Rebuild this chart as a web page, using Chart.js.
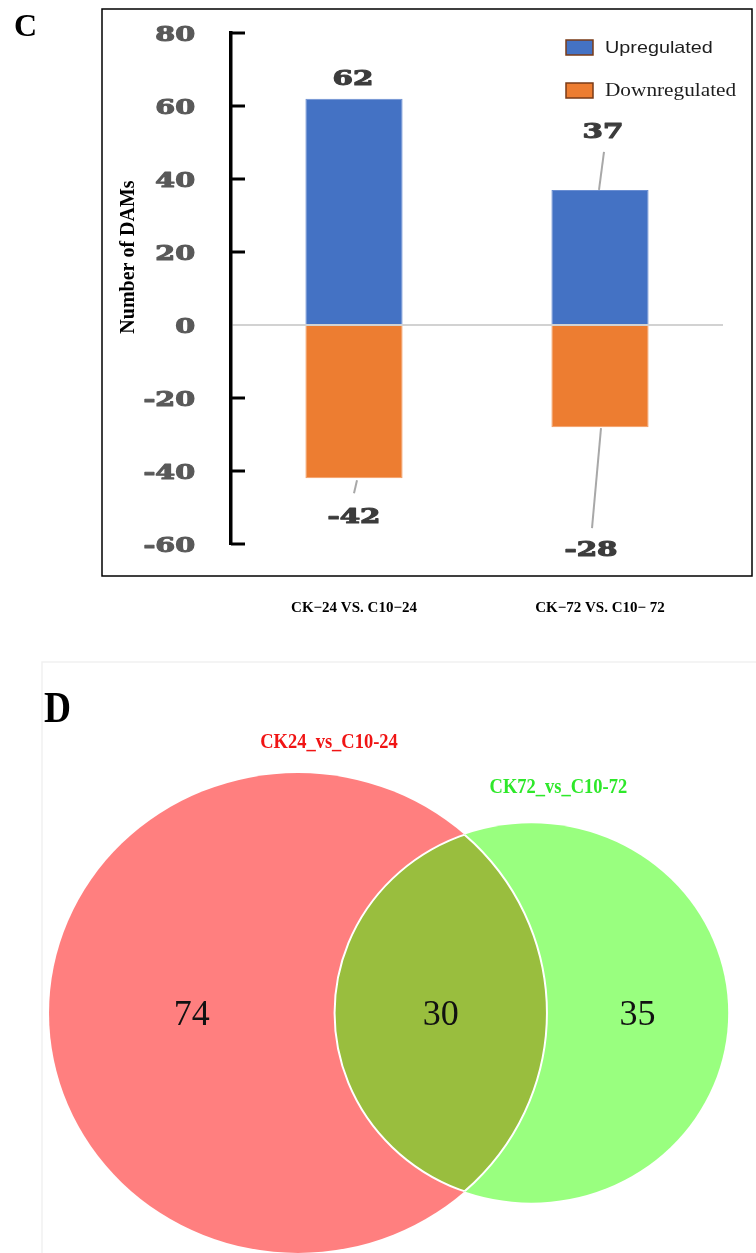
<!DOCTYPE html>
<html>
<head>
<meta charset="utf-8">
<title>DAMs</title>
<script src="https://cdn.jsdelivr.net/npm/chart.js@4.4.1/dist/chart.umd.min.js"></script>
<style>
  html, body { margin: 0; padding: 0; background: #ffffff; }
  #panelC { position: absolute; left: 0; top: 0; }
  #panelD { position: absolute; left: 0; top: 640px; }
</style>
</head>
<body>
<canvas id="panelC" width="756" height="640"></canvas>
<canvas id="panelD" width="756" height="613"></canvas>
<script>
// ---------- Panel C: up / down regulated DAMs per comparison ----------
const comparisons = ['CK\u221224 VS. C10\u221224', 'CK\u221272 VS. C10\u2212 72'];
const upregulated = [62, 37];
const downregulated = [-42, -28];
const yTickValues = [-60, -40, -20, 0, 20, 40, 60, 80];
const yAxisTitle = 'Number of DAMs';

// ---------- Panel D: Venn diagram of the two comparisons ----------
const vennSets = ['CK24_vs_C10-24', 'CK72_vs_C10-72'];
const vennRegions = [74, 30, 35]; // only first set, shared, only second set

const SERIF = '"Liberation Serif", "Times New Roman", serif';
const SLAB = '"DejaVu Serif", serif';
const SANS = '"Liberation Sans", Arial, sans-serif';

// draw text squeezed or widened horizontally, optionally with a heavier outline
function stretchedText(ctx, text, x, y, sx, align, heavy) {
  ctx.save();
  ctx.translate(x, y);
  ctx.scale(sx, 1);
  ctx.textAlign = align || 'center';
  ctx.fillText(text, 0, 0);
  if (heavy) {
    ctx.strokeStyle = ctx.fillStyle;
    ctx.lineWidth = heavy;
    ctx.lineJoin = 'round';
    ctx.strokeText(text, 0, 0);
  }
  ctx.restore();
}

// outer frame, panel letter and axis title
const panelDecor = {
  id: 'panelDecor',
  beforeDraw(chart, args, opts) {
    const ctx = chart.ctx;
    ctx.save();
    ctx.fillStyle = '#ffffff';
    ctx.fillRect(0, 0, chart.width, chart.height);
    ctx.strokeStyle = '#000000';
    ctx.lineWidth = 1.5;
    const f = opts.frame;
    ctx.strokeRect(f.x, f.y, f.w, f.h);
    ctx.fillStyle = '#000000';
    ctx.font = 'bold 32px ' + SERIF;
    ctx.textBaseline = 'alphabetic';
    ctx.textAlign = 'left';
    ctx.fillText(opts.letter, opts.letterX, opts.letterY);
    ctx.restore();
  },
  afterDraw(chart, args, opts) {
    const ctx = chart.ctx;
    ctx.save();
    ctx.translate(opts.titleX, opts.titleY);
    ctx.rotate(-Math.PI / 2);
    ctx.font = 'bold 20px ' + SERIF;
    ctx.fillStyle = '#000000';
    ctx.textAlign = 'center';
    ctx.textBaseline = 'middle';
    ctx.fillText(yAxisTitle, 0, 0);
    ctx.restore();
  }
};

// inward tick marks and wide slab tick labels on the value axis
const valueAxisTicks = {
  id: 'valueAxisTicks',
  afterDraw(chart, args, opts) {
    const ctx = chart.ctx;
    const y = chart.scales.y;
    const x0 = chart.chartArea.left;
    ctx.save();
    ctx.strokeStyle = '#000000';
    ctx.lineWidth = 3;
    y.ticks.forEach(t => {
      const py = y.getPixelForValue(t.value);
      if (t.value !== 0) {
        ctx.beginPath();
        ctx.moveTo(x0, py);
        ctx.lineTo(x0 + opts.tickLength, py);
        ctx.stroke();
      }
    });
    ctx.font = 'bold 21px ' + SLAB;
    ctx.fillStyle = '#595959';
    ctx.textBaseline = 'alphabetic';
    y.ticks.forEach(t => {
      const py = y.getPixelForValue(t.value);
      stretchedText(ctx, String(t.value), x0 - opts.labelGap, py + 7.6, opts.stretch, 'right', 1.1);
    });
    ctx.restore();
  }
};

// value labels with leader lines at the end of each bar
const barValueLabels = {
  id: 'barValueLabels',
  afterDatasetsDraw(chart, args, opts) {
    const ctx = chart.ctx;
    ctx.save();
    chart.data.datasets.forEach((ds, di) => {
      const meta = chart.getDatasetMeta(di);
      meta.data.forEach((bar, i) => {
        const o = opts.placement[di][i];
        const bx = bar.x, by = bar.y;
        if (o.line) {
          ctx.strokeStyle = '#a8a8a8';
          ctx.lineWidth = 2;
          ctx.beginPath();
          ctx.moveTo(bx + o.line[0][0], by + o.line[0][1]);
          ctx.lineTo(bx + o.line[1][0], by + o.line[1][1]);
          ctx.stroke();
        }
        ctx.font = 'bold 21px ' + SLAB;
        ctx.fillStyle = '#3c3c3c';
        ctx.textBaseline = 'alphabetic';
        stretchedText(ctx, String(ds.data[i]), bx + o.dx, by + o.dy + 7.6, opts.stretch, 'center', 1.1);
      });
    });
    ctx.restore();
  }
};

// legend with its own per-entry fonts
const sideLegend = {
  id: 'sideLegend',
  afterDraw(chart, args, opts) {
    const ctx = chart.ctx;
    ctx.save();
    chart.data.datasets.forEach((ds, i) => {
      const top = opts.y + i * opts.spacing;
      ctx.fillStyle = ds.backgroundColor;
      ctx.fillRect(opts.x, top, opts.boxW, opts.boxH);
      ctx.strokeStyle = '#7a3b17';
      ctx.lineWidth = 1.5;
      ctx.strokeRect(opts.x, top, opts.boxW, opts.boxH);
      const it = opts.items[i];
      ctx.font = it.font;
      ctx.fillStyle = '#1e1e1e';
      ctx.textBaseline = 'middle';
      stretchedText(ctx, ds.label, opts.x + opts.textGap, top + opts.boxH / 2 + 1, it.stretch, 'left');
    });
    ctx.restore();
  }
};

new Chart(document.getElementById('panelC'), {
  type: 'bar',
  data: {
    labels: comparisons,
    datasets: [
      { label: 'Upregulated', data: upregulated, backgroundColor: '#4472C4', borderColor: '#6a8ed2', borderWidth: 1 },
      { label: 'Downregulated', data: downregulated, backgroundColor: '#ED7D31', borderColor: '#f39b60', borderWidth: 1 }
    ]
  },
  options: {
    responsive: false,
    animation: false,
    devicePixelRatio: 1,
    layout: { padding: { left: 116, top: 33, right: 33, bottom: 0 } },
    datasets: { bar: { categoryPercentage: 1, barPercentage: 0.395 } },
    plugins: {
      legend: { display: false },
      tooltip: { enabled: false },
      panelDecor: { frame: { x: 102, y: 9, w: 650, h: 567 }, letter: 'C', letterX: 14, letterY: 36, titleX: 129, titleY: 257 },
      valueAxisTicks: { tickLength: 14, labelGap: 36, stretch: 1.36 },
      barValueLabels: {
        stretch: 1.4,
        placement: [
          [ { dx: -1, dy: -21 },
            { dx: 3, dy: -60, line: [[-1, 0], [4, -38]] } ],
          [ { dx: 0, dy: 37, line: [[3, 2], [0, 15]] },
            { dx: -9, dy: 121, line: [[1, 1], [-8, 101]] } ]
        ]
      },
      sideLegend: {
        x: 566, y: 40, spacing: 43, boxW: 27, boxH: 15, textGap: 39,
        items: [
          { font: '16.5px ' + SANS, stretch: 1.2 },
          { font: '19px ' + SERIF, stretch: 1.12 }
        ]
      }
    },
    scales: {
      x: {
        stacked: true,
        grid: { display: false },
        border: { display: false },
        ticks: { padding: 47, color: '#000000', font: { family: SERIF, weight: 'bold', size: 15 } },
        afterFit(s) { s.height = 96; }
      },
      y: {
        stacked: true,
        min: -60,
        max: 80,
        z: 1,
        afterBuildTicks(s) { s.ticks = yTickValues.map(v => ({ value: v })); },
        afterFit(s) { s.width = 115; },
        ticks: { display: false },
        grid: {
          drawTicks: false,
          lineWidth: 2,
          color: c => (c.tick && c.tick.value === 0) ? '#d2d2d2' : 'rgba(0,0,0,0)'
        },
        border: { display: true, color: '#000000', width: 3.5 }
      }
    }
  },
  plugins: [panelDecor, valueAxisTicks, barValueLabels, sideLegend]
});

// ---------- Venn geometry: area-proportional circles ----------
const areaA = vennRegions[0] + vennRegions[1];
const areaB = vennRegions[2] + vennRegions[1];
const rA = Math.sqrt(areaA / Math.PI);
const rB = Math.sqrt(areaB / Math.PI);

function lensArea(d, r1, r2) {
  if (d >= r1 + r2) return 0;
  if (d <= Math.abs(r1 - r2)) return Math.PI * Math.min(r1, r2) ** 2;
  const a1 = Math.acos((d * d + r1 * r1 - r2 * r2) / (2 * d * r1));
  const a2 = Math.acos((d * d + r2 * r2 - r1 * r1) / (2 * d * r2));
  const k = Math.sqrt((-d + r1 + r2) * (d + r1 - r2) * (d - r1 + r2) * (d + r1 + r2));
  return r1 * r1 * a1 + r2 * r2 * a2 - 0.5 * k;
}
function centerDistance(target) {
  let lo = Math.abs(rA - rB), hi = rA + rB;
  for (let i = 0; i < 60; i++) {
    const mid = (lo + hi) / 2;
    if (lensArea(mid, rA, rB) > target) lo = mid; else hi = mid;
  }
  return (lo + hi) / 2;
}
const dAB = centerDistance(vennRegions[1]);
const circles = [{ x: 0, r: rA }, { x: dAB, r: rB }];
// label anchor of each region, midway between the bounding circle edges
const regionPoints = [
  { x: (-rA + (dAB - rB)) / 2, y: 0 },
  { x: ((dAB - rB) + rA) / 2, y: 0 },
  { x: (rA + dAB + rB) / 2, y: 0 }
];

const vennDraw = {
  id: 'vennDraw',
  beforeDatasetsDraw(chart, args, opts) {
    const ctx = chart.ctx;
    const sx = chart.scales.x, sy = chart.scales.y;
    const shapes = circles.map(c => ({
      cx: sx.getPixelForValue(c.x),
      cy: sy.getPixelForValue(0),
      rx: sx.getPixelForValue(c.x + c.r) - sx.getPixelForValue(c.x),
      ry: sy.getPixelForValue(0) - sy.getPixelForValue(c.r)
    }));
    const path = s => { ctx.beginPath(); ctx.ellipse(s.cx, s.cy, s.rx, s.ry, 0, 0, Math.PI * 2); };

    ctx.save();
    ctx.fillStyle = '#ffffff';
    ctx.fillRect(0, 0, chart.width, chart.height);
    // faint border of the figure
    ctx.strokeStyle = '#f1f1f1';
    ctx.lineWidth = 1.5;
    ctx.strokeRect(opts.frame.x, opts.frame.y, opts.frame.w, opts.frame.h);

    shapes.forEach((s, i) => { path(s); ctx.fillStyle = opts.fills[i]; ctx.fill(); });
    // overlap
    ctx.save();
    path(shapes[0]); ctx.clip();
    path(shapes[1]); ctx.fillStyle = opts.overlap; ctx.fill();
    ctx.restore();
    // white edges bounding the overlap
    ctx.strokeStyle = '#ffffff';
    ctx.lineWidth = 2;
    [[0, 1], [1, 0]].forEach(([a, b]) => {
      ctx.save();
      path(shapes[b]); ctx.clip();
      path(shapes[a]); ctx.stroke();
      ctx.restore();
    });

    // set names above each circle
    ctx.font = 'bold 21px ' + SERIF;
    ctx.textBaseline = 'middle';
    shapes.forEach((s, i) => {
      ctx.fillStyle = opts.nameColors[i];
      const o = opts.nameOffsets[i];
      stretchedText(ctx, vennSets[i], s.cx + o.dx, s.cy - s.ry + o.dy, 0.88, 'center');
    });

    // panel letter
    ctx.fillStyle = '#000000';
    ctx.font = 'bold 44px ' + SERIF;
    ctx.textBaseline = 'alphabetic';
    stretchedText(ctx, 'D', 44, 82, 0.85, 'left');
    ctx.restore();
  },
  afterDatasetsDraw(chart) {
    const ctx = chart.ctx;
    const meta = chart.getDatasetMeta(0);
    ctx.save();
    ctx.font = '36px ' + SERIF;
    ctx.fillStyle = '#111111';
    ctx.textAlign = 'center';
    ctx.textBaseline = 'alphabetic';
    meta.data.forEach((pt, i) => {
      ctx.fillText(String(vennRegions[i]), pt.x, pt.y + 12);
    });
    ctx.restore();
  }
};

new Chart(document.getElementById('panelD'), {
  type: 'scatter',
  data: { datasets: [{ label: 'regions', data: regionPoints, pointRadius: 0, pointHoverRadius: 0 }] },
  options: {
    responsive: false,
    animation: false,
    devicePixelRatio: 1,
    layout: { padding: 0 },
    events: [],
    plugins: {
      legend: { display: false },
      tooltip: { enabled: false },
      vennDraw: {
        fills: ['#FF7F7F', '#99FF7F'],
        overlap: '#99BE3E',
        nameColors: ['#f01414', '#2ee82a'],
        nameOffsets: [{ dx: 31, dy: -30 }, { dx: 27, dy: -36 }],
        frame: { x: 42, y: 22, w: 800, h: 700 }
      }
    },
    scales: {
      x: { type: 'linear', display: false, min: -6.887, max: 10.585 },
      y: { type: 'linear', display: false, min: -5.754, max: 8.943 }
    }
  },
  plugins: [vennDraw]
});
</script>
</body>
</html>
